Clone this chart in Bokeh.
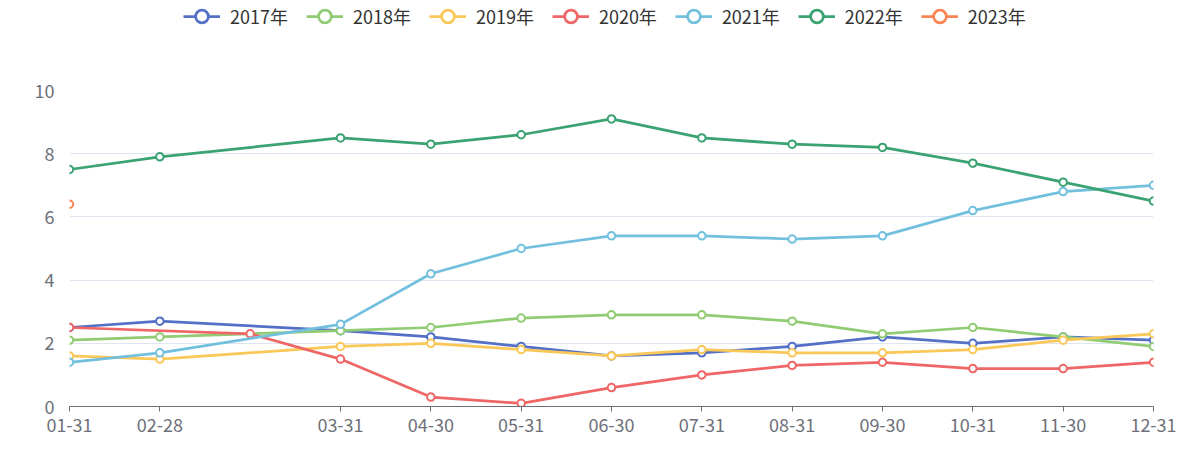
from bokeh.plotting import figure
from bokeh.layouts import column
from bokeh.models import FixedTicker, Legend, LegendItem, ColumnDataSource
from bokeh.embed import file_html
from bokeh.resources import INLINE

# ---- data ----
dates = ["01-31", "02-28", "02-29", "03-31", "04-30", "05-31", "06-30",
         "07-31", "08-31", "09-30", "10-31", "11-30", "12-31"]
hidden_labels = ["02-29"]
years = ["2017年", "2018年", "2019年", "2020年", "2021年", "2022年", "2023年"]
v2017 = [2.5, 2.7, None, 2.4, 2.2, 1.9, 1.6, 1.7, 1.9, 2.2, 2.0, 2.2, 2.1]
v2018 = [2.1, 2.2, None, 2.4, 2.5, 2.8, 2.9, 2.9, 2.7, 2.3, 2.5, 2.2, 1.9]
v2019 = [1.6, 1.5, None, 1.9, 2.0, 1.8, 1.6, 1.8, 1.7, 1.7, 1.8, 2.1, 2.3]
v2020 = [2.5, None, 2.3, 1.5, 0.3, 0.1, 0.6, 1.0, 1.3, 1.4, 1.2, 1.2, 1.4]
v2021 = [1.4, 1.7, None, 2.6, 4.2, 5.0, 5.4, 5.4, 5.3, 5.4, 6.2, 6.8, 7.0]
v2022 = [7.5, 7.9, None, 8.5, 8.3, 8.6, 9.1, 8.5, 8.3, 8.2, 7.7, 7.1, 6.5]
v2023 = [6.4, None, None, None, None, None, None, None, None, None, None, None, None]
series = [v2017, v2018, v2019, v2020, v2021, v2022, v2023]
colors = ["#5470c6", "#91cc75", "#fac858", "#ee6666", "#73c0de", "#3ba272", "#fc8452"]
y_ticks = [0, 2, 4, 6, 8, 10]

FONT = "Noto Sans CJK SC"
AXIS_C = "#6E7079"
W = 1193
LEG_H = 36

# ---- legend strip (its ranges show none of the data; only the legend is seen) ----
lg = figure(width=W, height=LEG_H, output_backend="svg", toolbar_location=None,
            x_range=(100, 101), y_range=(100, 101), min_border=0)
lg.outline_line_color = None
lg.axis.visible = False
lg.grid.visible = False

# ---- main chart ----
p = figure(width=W, height=442 - LEG_H, output_backend="svg", toolbar_location=None,
           x_range=(0, len(dates) - 1), y_range=(0, 10),
           min_border_left=69, min_border_right=40, min_border_top=90 - LEG_H,
           min_border_bottom=36)
p.outline_line_color = None
p.xgrid.grid_line_color = None
p.ygrid.grid_line_color = "#E0E6F1"
p.ygrid.grid_line_width = 1

tick_pos = [i for i, d in enumerate(dates) if d not in hidden_labels]
p.xaxis.ticker = FixedTicker(ticks=tick_pos)
p.xaxis.major_label_overrides = {i: dates[i] for i in tick_pos}
p.xaxis.axis_line_color = AXIS_C
p.xaxis.major_tick_line_color = AXIS_C
p.xaxis.major_tick_out = 5
p.xaxis.major_tick_in = 0
p.xaxis.minor_tick_line_color = None
p.xaxis.major_label_text_font = FONT
p.xaxis.major_label_text_font_size = "18px"
p.xaxis.major_label_text_color = AXIS_C
p.xaxis.major_label_standoff = 6

p.yaxis.ticker = FixedTicker(ticks=y_ticks)
p.yaxis.axis_line_color = None
p.yaxis.major_tick_line_color = None
p.yaxis.minor_tick_line_color = None
p.yaxis.major_label_text_font = FONT
p.yaxis.major_label_text_font_size = "18px"
p.yaxis.major_label_text_color = AXIS_C
p.yaxis.major_label_standoff = 9

items = []
for name, vals, c in zip(years, series, colors):
    xs = [i for i, v in enumerate(vals) if v is not None]
    ys = [v for v in vals if v is not None]
    src = ColumnDataSource(dict(x=xs, y=ys))
    if len(xs) > 1:
        p.line("x", "y", source=src, line_color=c, line_width=2.75)
    p.scatter("x", "y", source=src, size=7.5, marker="circle", fill_color="white",
              line_color=c, line_width=2)
    # legend swatches: same data, drawn in the legend strip outside its view
    lr = lg.line("x", "y", source=src, line_color=c, line_width=2.75)
    sr = lg.scatter("x", "y", source=src, size=13, marker="circle", fill_color="white",
                    line_color=c, line_width=2.75)
    items.append(LegendItem(label=name, renderers=[lr, sr]))

legend = Legend(items=items, orientation="horizontal", location=(114, 4),
                glyph_width=37, glyph_height=32, label_height=16,
                label_standoff=10, spacing=18, padding=0, margin=0,
                label_text_font=FONT, label_text_font_size="18px",
                label_text_color="#333333", border_line_color=None,
                background_fill_alpha=0)
lg.add_layout(legend, "center")

layout = column(lg, p, spacing=0)
open("out.html", "w").write(file_html(layout, INLINE))
